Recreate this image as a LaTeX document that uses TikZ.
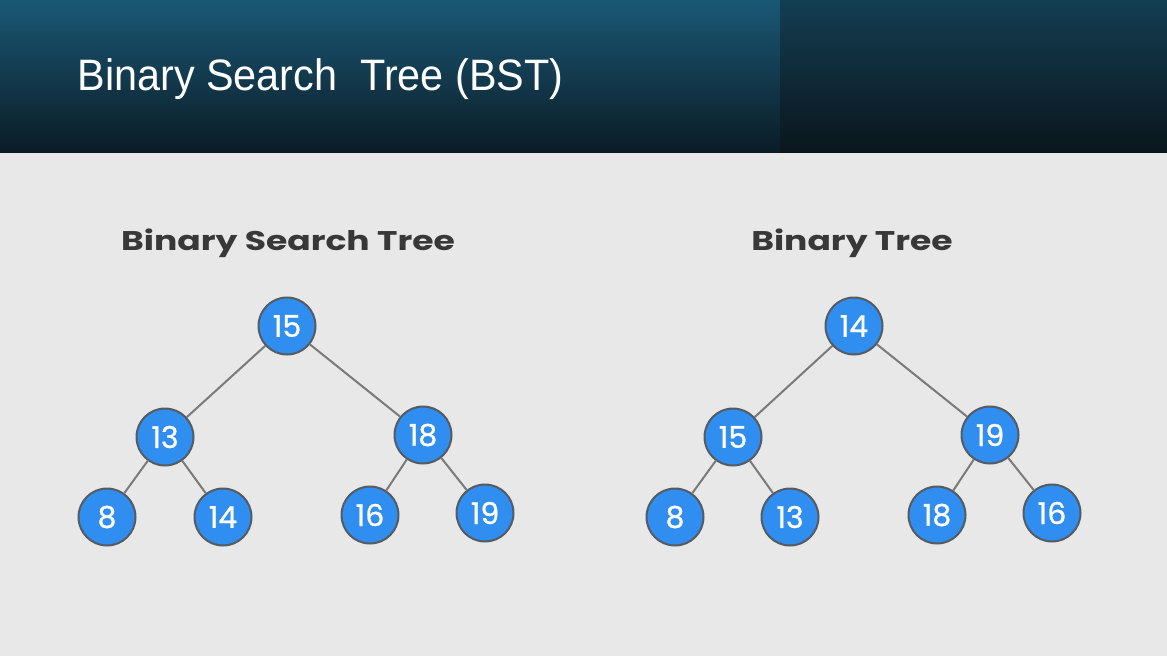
\documentclass[tikz,border=0pt]{standalone}
\usepackage{fontspec}
\setmainfont{Poppins}
\newfontfamily\headfont[FakeStretch=0.94]{Liberation Sans}
\newfontfamily\titlefont[FakeStretch=1.28]{Poppins}
\newfontfamily\digitfont[FakeBold=0.8]{Poppins}
\definecolor{bg}{HTML}{E8E8E8}
\definecolor{nodefill}{HTML}{2F8EF0}
\definecolor{nodeedge}{HTML}{555B61}
\definecolor{edgecol}{HTML}{7A7A7A}
\definecolor{titlecol}{HTML}{383838}
\definecolor{hdtopL}{HTML}{1A5875}
\definecolor{hdbotL}{HTML}{0B1C26}
\definecolor{hdtopR}{HTML}{143E52}
\definecolor{hdbotR}{HTML}{0A161D}
\tikzset{
  tnode/.style={circle, fill=nodefill, draw=nodeedge, line width=2pt, minimum size=57pt, inner sep=0pt, text=white, font=\digitfont\fontsize{30}{30}\selectfont},
  tedge/.style={draw=edgecol, line width=2pt},
  ttitle/.style={text=titlecol, font=\titlefont\fontsize{27}{27}\selectfont\bfseries},
}
\begin{document}
\begin{tikzpicture}[x=1pt,y=-1pt]
\useasboundingbox (0,0) rectangle (1167,656);
\fill[bg] (0,0) rectangle (1167,656);
\shade[top color=hdtopL, bottom color=hdbotL] (0,0) rectangle (780,152);
\shade[top color=hdtopR, bottom color=hdbotR] (780,0) rectangle (1167,152);
\node[anchor=west, text=white, font=\headfont\fontsize{44}{44}\selectfont] (head) at (74,79) {Binary Search\ \ Tree (BST)};

\node[ttitle] (t1) at (288,243) {Binary Search Tree};
\node[ttitle] (t2) at (852,243) {Binary Tree};

% left tree
\node[tnode] (a15) at (287,326) {15};
\node[tnode] (a13) at (165,437) {13};
\node[tnode] (a18) at (423,435) {18};
\node[tnode] (a8) at (107,517) {8};
\node[tnode] (a14) at (223,517) {14};
\node[tnode] (a16) at (370,515) {16};
\node[tnode] (a19) at (485,513) {19};
% right tree
\node[tnode] (b14) at (854,326) {14};
\node[tnode] (b15) at (733,437) {15};
\node[tnode] (b19) at (990,435) {19};
\node[tnode] (b8) at (675,517) {8};
\node[tnode] (b13) at (790,517) {13};
\node[tnode] (b18) at (937,515) {18};
\node[tnode] (b16) at (1052,513) {16};

\path[tedge] (a15) -- (a13) (a15) -- (a18) (a13) -- (a8) (a13) -- (a14) (a18) -- (a16) (a18) -- (a19);
\path[tedge] (b14) -- (b15) (b14) -- (b19) (b15) -- (b8) (b15) -- (b13) (b19) -- (b18) (b19) -- (b16);
\end{tikzpicture}
\end{document}
